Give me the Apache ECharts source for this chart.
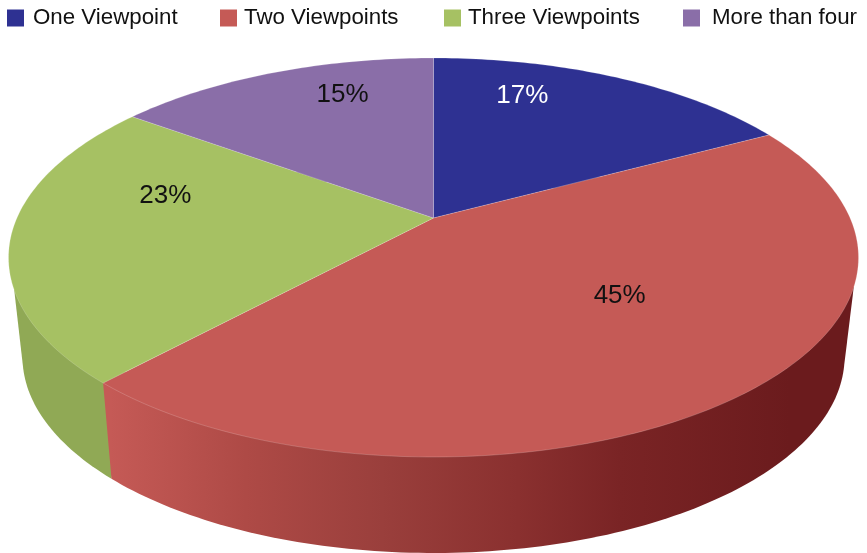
<!DOCTYPE html>
<html>
<head>
<meta charset="utf-8">
<style>html,body{margin:0;padding:0;background:#fff}#c{width:867px;height:553px}</style>
<script src="https://cdn.jsdelivr.net/npm/echarts@6/dist/echarts.min.js"></script>
</head>
<body>
<div id="c"></div>
<script>
const categories = ['One Viewpoint', 'Two Viewpoints', 'Three Viewpoints', 'More than four'];
const shares = [17.15, 44.7, 23.2, 14.95];
const topColors = ['#2e3192', '#c55a56', '#a6c163', '#8a6ea8'];
const labelColors = ['#ffffff', '#111111', '#111111', '#111111'];

// pie geometry
const TOP = {cx: 433.5, cy: 257.5, rx: 425, ry: 199.5, d: 0.198};
const BOTTOM = {cx: 433.5, cy: 357, rx: 411, ry: 196, d: 0.21};
const SIDE_START_Y = 287;
const LABEL_ANCHOR = [[0.209, -0.812], [0.438, 0.19], [-0.631, -0.31], [-0.214, -0.817]];
const LEGEND_LEFT = [7, 220, 444, 683];
const LEGEND_TEXT_PAD = [4, 2, 2, 7];
const SIDE_Z = [2, 4, 3, 1];

const total = shares.reduce((a, b) => a + b, 0);
const starts = shares.map((_, i) => shares.slice(0, i).reduce((a, b) => a + b, 0));

function rim(frac, e) {
  const t = frac * Math.PI * 2, x = Math.sin(t), y = -Math.cos(t), d = e.d;
  const den = 1 - d * y;
  return [e.cx + e.rx * x * Math.sqrt(1 - d * d) / den, e.cy + e.ry * (y - d) / den];
}
function arc(a, b, e) {
  const pts = [], n = Math.max(8, Math.ceil((b - a) * 360));
  for (let i = 0; i <= n; i++) pts.push(rim(a + (b - a) * i / n, e));
  return pts;
}
function hull(points) {
  const p = points.slice().sort((a, b) => a[0] - b[0] || a[1] - b[1]);
  const cross = (o, a, b) => (a[0] - o[0]) * (b[1] - o[1]) - (a[1] - o[1]) * (b[0] - o[0]);
  const lo = [], up = [];
  for (const q of p) { while (lo.length > 1 && cross(lo[lo.length - 2], lo[lo.length - 1], q) <= 0) lo.pop(); lo.push(q); }
  for (const q of p.slice().reverse()) { while (up.length > 1 && cross(up[up.length - 2], up[up.length - 1], q) <= 0) up.pop(); up.push(q); }
  return lo.slice(0, -1).concat(up.slice(0, -1));
}
function sideFill(i) {
  if (i === 1) {
    return new echarts.graphic.LinearGradient(110, 0, 790, 0, [
      {offset: 0, color: '#c55a56'}, {offset: 0.2, color: '#ae4a46'},
      {offset: 0.4, color: '#9a3f3c'}, {offset: 0.6, color: '#8a302f'},
      {offset: 0.75, color: '#7a2425'}, {offset: 1, color: '#6b1b1d'}
    ], true);
  }
  return i === 2 ? '#90a955' : i === 0 ? '#232670' : '#6e5886';
}

const chart = echarts.init(document.getElementById('c'), null, {renderer: 'canvas'});
chart.setOption({
  animation: false,
  backgroundColor: '#ffffff',
  textStyle: {fontFamily: 'Liberation Sans'},
  legend: categories.map((name, i) => ({
    left: LEGEND_LEFT[i], top: 7, icon: 'rect', itemWidth: 17, itemHeight: 17,
    selectedMode: false, padding: 0,
    textStyle: {fontSize: 22.3, color: '#111111', fontFamily: 'Liberation Sans', padding: [0, 0, 0, LEGEND_TEXT_PAD[i]]},
    data: [name]
  })),
  series: categories.map((name, i) => ({
    type: 'custom',
    name,
    coordinateSystem: 'none',
    silent: true,
    itemStyle: {color: topColors[i]},
    data: [shares[i]],
    renderItem(params, api) {
      const a = starts[i] / total, b = a + api.value(0) / total;
      const top = arc(a, b, TOP), bottom = arc(a, b, BOTTOM);
      const centre = [TOP.cx, TOP.cy - TOP.ry * TOP.d];
      const anchor = LABEL_ANCHOR[i];
      const sidePts = top.filter(p => p[1] >= SIDE_START_Y).concat(bottom);
      return {
        type: 'group',
        children: [
          {type: 'polygon', z2: SIDE_Z[i], shape: {points: hull(sidePts)}, style: {fill: sideFill(i)}},
          {type: 'polygon', z2: 10, shape: {points: [centre].concat(top)},
            style: {fill: topColors[i], stroke: 'rgba(255,255,255,0.3)', lineWidth: 0.6}},
          {type: 'text', z2: 20, x: TOP.cx + anchor[0] * TOP.rx, y: TOP.cy + anchor[1] * TOP.ry,
            style: {text: Math.round(shares[i]) + '%', fill: labelColors[i], fontSize: 26, fontFamily: 'Liberation Sans',
              align: 'center', verticalAlign: 'middle'}}
        ]
      };
    }
  }))
});
</script>
</body>
</html>
